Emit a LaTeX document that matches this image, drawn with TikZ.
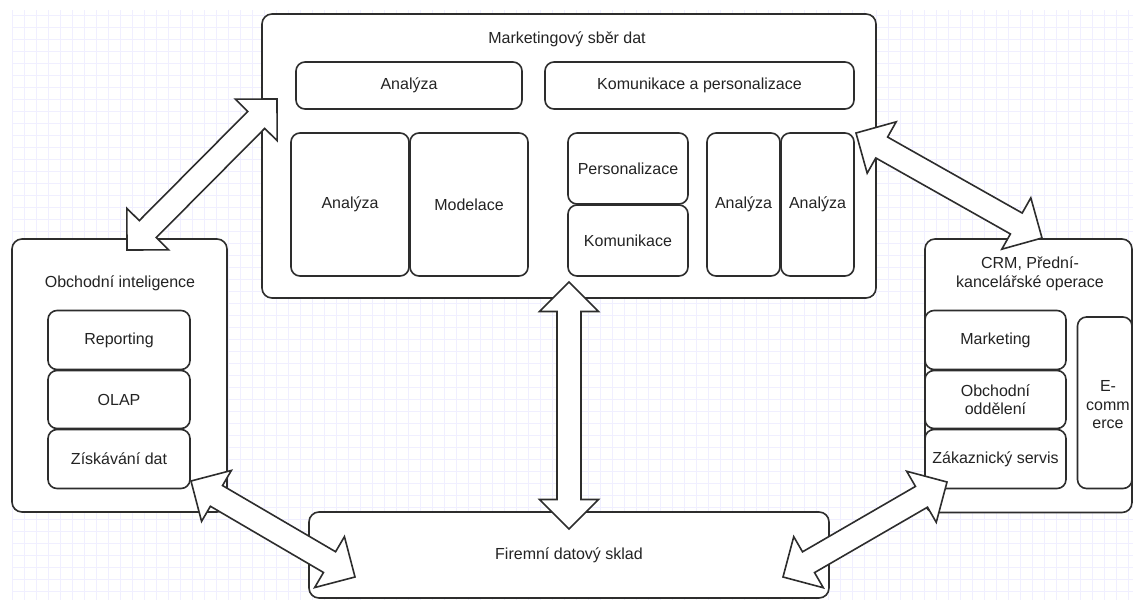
\documentclass[tikz,border=0pt]{standalone}
\usepackage{fontspec}
\setmainfont{Liberation Sans}
\usetikzlibrary{calc}
\definecolor{gridc}{RGB}{240,239,255}
\definecolor{linec}{RGB}{45,45,45}
\definecolor{textc}{RGB}{35,35,35}
\def\hl{29.5pt}
\def\hw{29.5pt}
\def\bw{12pt}
\newcommand{\dblarrow}[2]{%
  \coordinate (ha) at ($(#1)!\hl!(#2)$);
  \coordinate (hb) at ($(#2)!\hl!(#1)$);
  \draw[blockarrow] (#1) -- ($(ha)!\hw!90:(#2)$) -- ($(ha)!\bw!90:(#2)$)
    -- ($(hb)!\bw!-90:(#1)$) -- ($(hb)!\hw!-90:(#1)$) -- (#2)
    -- ($(hb)!\hw!90:(#1)$) -- ($(hb)!\bw!90:(#1)$)
    -- ($(ha)!\bw!-90:(#2)$) -- ($(ha)!\hw!-90:(#2)$) -- cycle;
}
\tikzset{
  gridline/.style={draw=gridc, line width=1pt},
  bigbox/.style={draw=linec, fill=white, line width=1.6pt, rounded corners=10pt,
    rectangle, inner sep=0pt},
  smallbox/.style={draw=linec, fill=white, line width=1.6pt, rounded corners=9pt,
    rectangle, inner sep=0pt, text=textc, font=\fontsize{16}{18.5}\selectfont, align=center},
  lbl/.style={text=textc, font=\fontsize{16}{18.5}\selectfont, align=center, inner sep=0pt},
  blockarrow/.style={draw=linec, fill=white, line width=1.6pt, line join=miter},
}
\begin{document}
\begin{tikzpicture}[x=1pt,y=-1pt]
\useasboundingbox (0,0) rectangle (1133,600);
\fill[white] (0,0) rectangle (1133,600);
\clip (0,0) rectangle (1133,600);
% grid
\foreach \i in {0,...,93} \draw[gridline] (12.5+12*\i,10) -- (12.5+12*\i,600);
\foreach \j in {0,...,48} \draw[gridline] (12,15+12*\j) -- (1133,15+12*\j);

% Marketing box
\node[bigbox, minimum width=614, minimum height=284] (mk) at (569,156) {};
\node[lbl] (mkt) at (567,39) {Marketingový sběr dat};
\node[smallbox, minimum width=226, minimum height=47] (mkan) at (409,85.5) {Analýza};
\node[smallbox, minimum width=309, minimum height=47] (mkkp) at (699.5,85.5) {Komunikace a personalizace};
\node[smallbox, minimum width=118, minimum height=143] (mka2) at (350,204.5) {Analýza};
\node[smallbox, minimum width=118, minimum height=143] (mkmo) at (469,204.5) {Modelace};
\node[smallbox, minimum width=120, minimum height=71] (mkpe) at (628,168.5) {Personalizace};
\node[smallbox, minimum width=120, minimum height=71] (mkko) at (628,240.5) {Komunikace};
\node[smallbox, minimum width=73, minimum height=143] (mka3) at (743.5,204.5) {Analýza};
\node[smallbox, minimum width=73, minimum height=143] (mka4) at (817.5,204.5) {Analýza};

% Obchodni inteligence
\node[bigbox, minimum width=215, minimum height=273] (bi) at (119.5,375.5) {};
\node[lbl] (bit) at (120,283) {Obchodní inteligence};
\node[smallbox, minimum width=142, minimum height=59] (birep) at (119,340) {Reporting};
\node[smallbox, minimum width=142, minimum height=58] (biolap) at (119,399.5) {OLAP};
\node[smallbox, minimum width=142, minimum height=59] (biziz) at (119,459) {Získávání dat};

% CRM
\node[bigbox, minimum width=207, minimum height=273.5] (crm) at (1028.5,375.75) {};
\node[lbl] (crmt) at (1030,274) {CRM, Přední-\\kancelářské operace};
\node[smallbox, minimum width=141, minimum height=59] (crmmk) at (995.5,340) {Marketing};
\node[smallbox, minimum width=141, minimum height=58] (crmob) at (995.5,399.5) {Obchodní\\oddělení};
\node[smallbox, minimum width=141, minimum height=59] (crmzs) at (995.5,459) {Zákaznický servis};
\node[smallbox, minimum width=54.5, minimum height=171.5] (crmec) at (1104.75,402.75) {};
\node[lbl] (crmect) at (1108,405) {E-\\comm\\erce};

% Firemni datovy sklad
\node[bigbox, minimum width=520, minimum height=86, text=textc, font=\fontsize{16}{18.5}\selectfont] (fds) at (569,555) {Firemní datový sklad};

% arrow end points
\coordinate (a1s) at (127,250);  \coordinate (a1e) at (277,99);
\coordinate (a2s) at (856,133);  \coordinate (a2e) at (1042,238);
\coordinate (a3s) at (569,282);  \coordinate (a3e) at (569,529);
\coordinate (a4s) at (191,481);  \coordinate (a4e) at (355,577);
\coordinate (a5s) at (947,482);  \coordinate (a5e) at (783,577);
\dblarrow{a1s}{a1e}
\dblarrow{a2s}{a2e}
\dblarrow{a3s}{a3e}
\dblarrow{a4s}{a4e}
\dblarrow{a5s}{a5e}
\end{tikzpicture}
\end{document}
